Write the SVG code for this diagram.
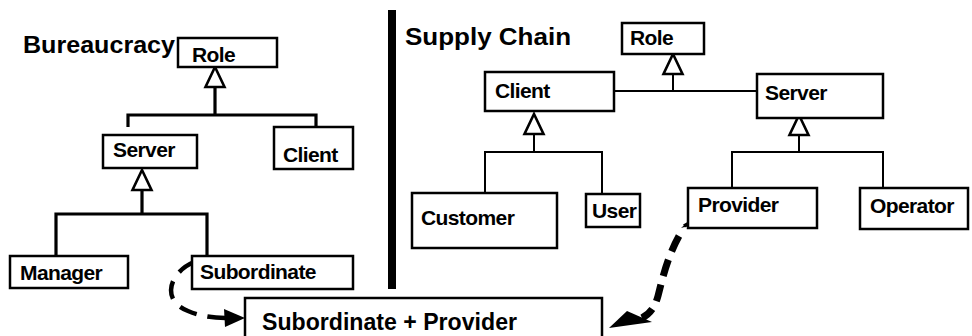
<svg xmlns="http://www.w3.org/2000/svg" xmlns:xlink="http://www.w3.org/1999/xlink" width="972" height="336" viewBox="0 0 972 336">
  <style>
    .box { fill: #fff; stroke: #000; stroke-width: 2.5; }
    .lbl { font-family: "Liberation Sans", Arial, Helvetica, sans-serif; font-weight: bold; font-size: 21px; letter-spacing: -0.6px; fill: #000; }
    .title { font-family: "Liberation Sans", Arial, Helvetica, sans-serif; font-weight: bold; font-size: 24px; fill: #000; }
    .wire { fill: none; stroke: #000; stroke-width: 2; }
    .wire-heavy { fill: none; stroke: #000; stroke-width: 3.2; }
    .gen { fill: #fff; stroke: #000; stroke-width: 2.6; stroke-linejoin: miter; }
    .dash-l { fill: none; stroke: #000; stroke-width: 4.5; stroke-dasharray: 18 11; }
    .dash-r { fill: none; stroke: #000; stroke-width: 7; stroke-dasharray: 17 9; }
    .head { fill: #000; }
  </style>
  <defs>
    <!-- hollow generalization triangle, apex at the origin -->
    <path id="tri" d="M0,0 L9.5,20 L-9.5,20 Z"/>
  </defs>

  <rect width="972" height="336" fill="#fff"/>

  <!-- section titles and divider -->
  <text class="title" x="23" y="53" textLength="152" lengthAdjust="spacingAndGlyphs">Bureaucracy</text>
  <text class="title" x="405" y="45" textLength="166" lengthAdjust="spacingAndGlyphs">Supply Chain</text>
  <rect id="divider" x="388" y="10" width="8" height="279" fill="#000"/>

  <g id="connectors">
    <!-- Bureaucracy: Role <- Server, Client -->
    <path class="wire-heavy" d="M215,88 V115 M128,115 H316 M128,113.5 V127 M316,113.5 V127"/>
    <use xlink:href="#tri" class="gen" x="215" y="67"/>
    <!-- Bureaucracy: Server <- Manager, Subordinate -->
    <path class="wire-heavy" d="M142,191 V214 M56,214 H207 M56,212.5 V256 M207,212.5 V256"/>
    <use xlink:href="#tri" class="gen" x="142" y="170"/>

    <!-- Supply chain: Role <- Client, Server -->
    <path class="wire" d="M673,74 V91 M614,91 H757"/>
    <use xlink:href="#tri" class="gen" x="673" y="54"/>
    <!-- Client <- Customer, User -->
    <path class="wire" d="M534,134 V152 M485,152 H602 M485,151 V193 M602,151 V194"/>
    <use xlink:href="#tri" class="gen" x="534" y="114"/>
    <!-- Server <- Provider, Operator -->
    <path class="wire" d="M799,135 V152 M732,152 H883 M732,151 V188 M883,151 V188"/>
    <use xlink:href="#tri" class="gen" x="799" y="115"/>

    <!-- Subordinate -> combined role -->
    <path class="dash-l" d="M194,262 C170,272 160,300 188,311 C200,316 212,318 226,318"/>
    <polygon class="head" points="245,318 224,309 225,327"/>

    <!-- Provider -> combined role -->
    <path fill="none" stroke="#000" stroke-width="3.5" d="M711,216 C700,218 692,221 684,226"/>
    <polygon class="head" points="681,228 690,220 692,225"/>
    <path class="dash-r" d="M679,236 C668,256 663,276 658,296 C655,307 650,314 642,318"/>
    <polygon class="head" points="609,328 627,311 652,322"/>
  </g>

  <g id="b-role">
    <rect class="box" x="178" y="38" width="99" height="29"/>
    <text class="lbl" x="192" y="62">Role</text>
  </g>
  <g id="b-server">
    <rect class="box" x="103" y="135" width="94" height="33"/>
    <text class="lbl" x="113" y="157">Server</text>
  </g>
  <g id="b-client">
    <rect class="box" x="274" y="127" width="79" height="42"/>
    <text class="lbl" x="283" y="162">Client</text>
  </g>
  <g id="b-manager">
    <rect class="box" x="10" y="256" width="118" height="32"/>
    <text class="lbl" x="20" y="280">Manager</text>
  </g>
  <g id="b-subordinate">
    <rect class="box" x="192" y="256" width="161" height="33"/>
    <text class="lbl" x="200" y="279">Subordinate</text>
  </g>

  <g id="s-role">
    <rect class="box" x="622" y="23" width="82" height="31"/>
    <text class="lbl" x="630" y="45">Role</text>
  </g>
  <g id="s-client">
    <rect class="box" x="485" y="72" width="129" height="39"/>
    <text class="lbl" x="495" y="98">Client</text>
  </g>
  <g id="s-server">
    <rect class="box" x="757" y="74" width="126" height="44"/>
    <text class="lbl" x="765" y="100">Server</text>
  </g>
  <g id="s-customer">
    <rect class="box" x="412" y="193" width="145" height="55"/>
    <text class="lbl" x="421" y="225">Customer</text>
  </g>
  <g id="s-user">
    <rect class="box" x="586" y="194" width="54" height="33"/>
    <text class="lbl" x="592" y="218">User</text>
  </g>
  <g id="s-provider">
    <rect class="box" x="688" y="188" width="129" height="40"/>
    <text class="lbl" x="698" y="212">Provider</text>
  </g>
  <g id="s-operator">
    <rect class="box" x="860" y="188" width="108" height="41"/>
    <text class="lbl" x="870" y="213">Operator</text>
  </g>

  <g id="combined">
    <rect class="box" x="245" y="298" width="357" height="44"/>
    <text class="title" x="262" y="330" textLength="255" lengthAdjust="spacingAndGlyphs">Subordinate + Provider</text>
  </g>
</svg>
